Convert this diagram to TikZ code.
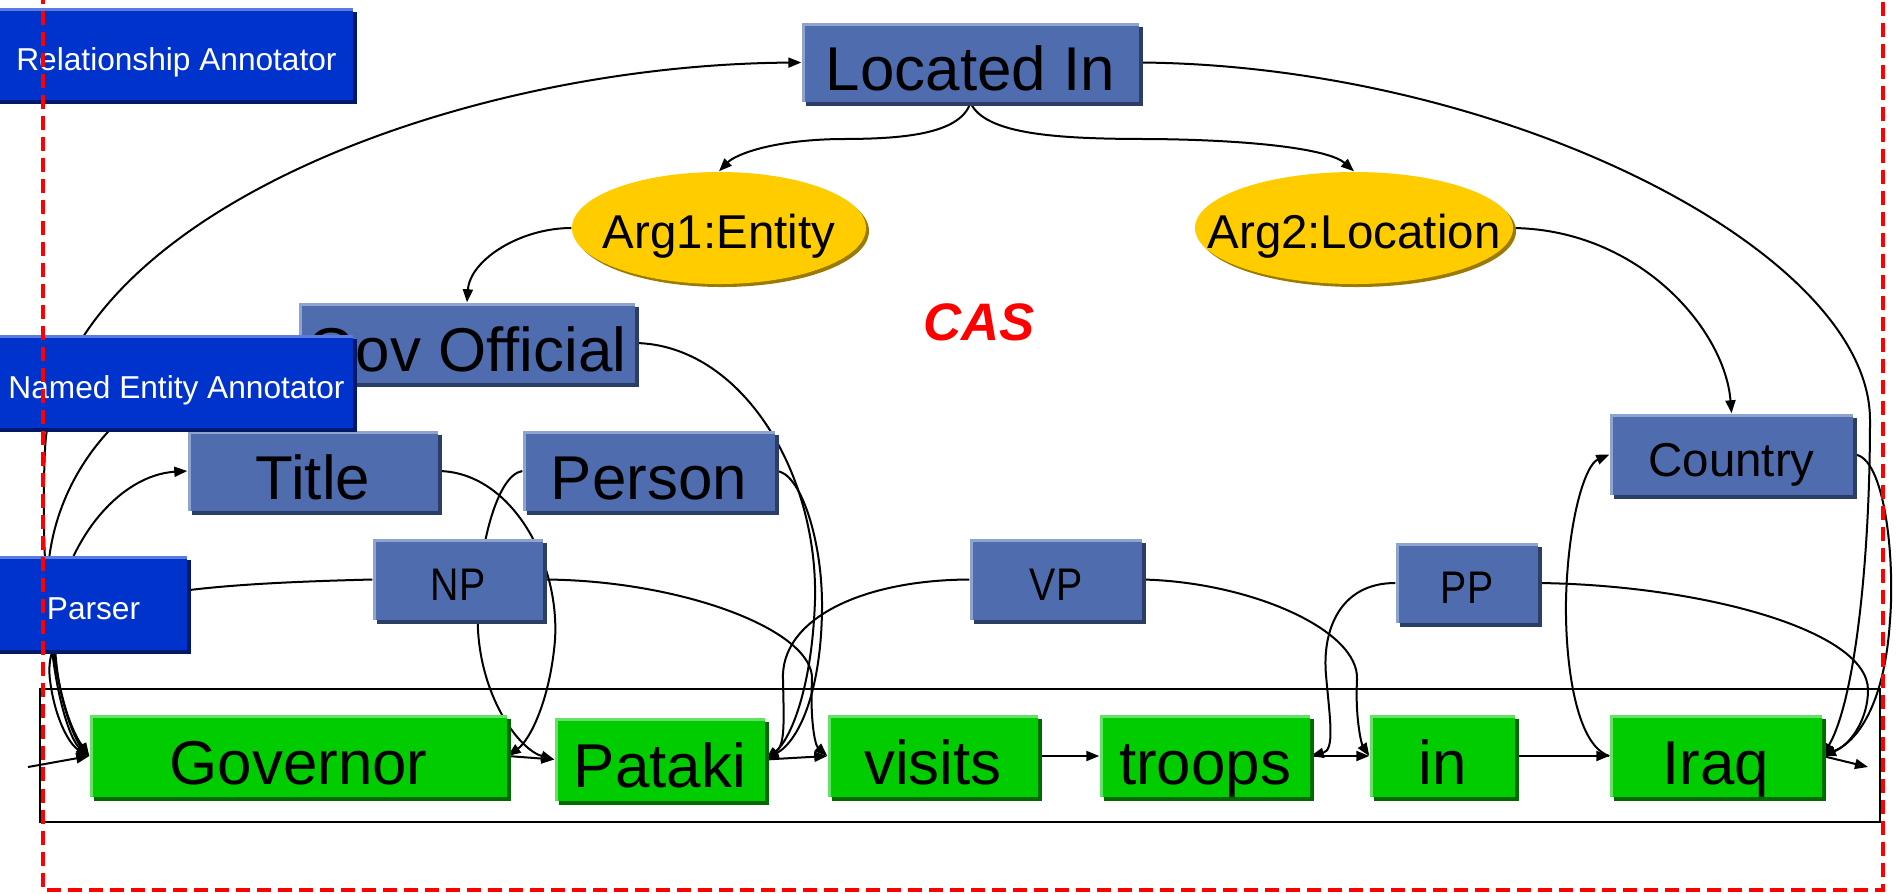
\documentclass[tikz,border=0pt]{standalone}
\usepackage{fontspec}
\setmainfont{Liberation Sans}
\usetikzlibrary{arrows.meta,shadows,shapes.geometric}

\pgfdeclarelayer{paper}
\pgfdeclarelayer{links}
\pgfsetlayers{paper,links,main}

\definecolor{slate}{HTML}{4F6CAE}
\definecolor{slatelight}{HTML}{8FA3CF}
\definecolor{slatedark}{HTML}{2C3D66}
\definecolor{royal}{HTML}{0033CC}
\definecolor{royallight}{HTML}{5A7BE0}
\definecolor{royaldark}{HTML}{00196B}
\definecolor{leaf}{HTML}{00CC00}
\definecolor{leaflight}{HTML}{66E066}
\definecolor{leafdark}{HTML}{006B00}
\definecolor{gold}{HTML}{FFCC00}
\definecolor{golddark}{HTML}{9C7A00}

\newcommand\txtbig{\fontsize{17.6pt}{21pt}\selectfont}
\newcommand\txtmid{\fontsize{13.5pt}{16pt}\selectfont}
\newcommand\txtphr{\fontsize{13pt}{16pt}\selectfont}
\newcommand\txtsmall{\fontsize{9pt}{11pt}\selectfont}
\newcommand\txtcas{\fontsize{15pt}{18pt}\selectfont\bfseries\itshape}

\tikzset{
  x=0.01cm, y=-0.01cm,
  wh/.style 2 args={minimum width=#1*0.01cm, minimum height=#2*0.01cm},
  raised/.style n args={3}{rectangle, inner sep=0pt, fill=#1,
    general shadow={fill=#3, shadow xshift=0.04cm, shadow yshift=-0.04cm},
    path picture={\draw[#2, line width=0.06cm]
      (path picture bounding box.south west) -- (path picture bounding box.north west)
      -- (path picture bounding box.north east);}},
  slatebox/.style={raised={slate}{slatelight}{slatedark}},
  royalbox/.style={raised={royal}{royallight}{royaldark}, text=white,
    font=\txtsmall, text height=0.33cm, text depth=0pt},
  leafbox/.style={raised={leaf}{leaflight}{leafdark},
    font=\txtbig, text height=0.56cm, text depth=0pt},
  bigtext/.style={font=\txtbig, text height=0.56cm, text depth=0pt},
  midtext/.style={font=\txtmid, text height=0.44cm, text depth=0pt},
  phrtext/.style={font=\txtphr, text height=0.41cm, text depth=0pt},
  goldoval/.style={ellipse, inner sep=0pt, fill=gold,
    general shadow={fill=golddark, shadow xshift=0.03cm, shadow yshift=-0.03cm},
    font=\txtmid, text height=0.40cm, text depth=0pt},
  lnk/.style={draw=black, line width=0.02cm},
  fwd/.style={-{Triangle[length=0.13cm,width=0.1cm]}},
  both/.style={{Triangle[length=0.13cm,width=0.1cm]}-{Triangle[length=0.13cm,width=0.1cm]}},
  casline/.style={draw=red, line width=0.04cm, dash pattern=on 0.14cm off 0.07cm},
}

\begin{document}
\begin{tikzpicture}
\useasboundingbox (0,0) rectangle (1899,893);
\begin{pgfonlayer}{paper}
  \fill[white] (0,0) rectangle (1899,893);
\end{pgfonlayer}

% token row
\node[leafbox, wh={417}{82}] (gov)  at (298.5,756) {Governor};
\node[leafbox, wh={210}{83}] (pat)  at (660,759.5) {Pataki};
\node[leafbox, wh={210}{82}] (vis)  at (933,756)   {visits};
\node[leafbox, wh={210}{82}] (trp)  at (1205,756)  {troops};
\node[leafbox, wh={145}{82}] (inn)  at (1442.5,756) {in};
\node[leafbox, wh={212}{82}] (iraq) at (1716,756)  {Iraq};
\coordinate (inp) at (28,767);
\coordinate (out) at (1868,767);

% annotations
\node[slatebox, bigtext, wh={337}{79}] (li)     at (970.5,62.5) {Located In};
\node[slatebox, bigtext, wh={336}{80}] (goff)   at (467,343)    {Gov Official};
\node[slatebox, bigtext, wh={250}{80}] (title)  at (313,471)    {Title};
\node[slatebox, bigtext, wh={252}{80}] (person) at (649,471)    {Person};
\node[slatebox, midtext, wh={243}{81}] (cty)    at (1731.5,454.5) {Country};
\node[slatebox, phrtext, wh={170}{81}] (np) at (458,579.5)  {\scalebox{0.86}[1]{NP}};
\node[slatebox, phrtext, wh={172}{81}] (vp) at (1056,579.5) {\scalebox{0.86}[1]{VP}};
\node[slatebox, phrtext, wh={142}{80}] (pp) at (1467,583)   {\scalebox{0.86}[1]{PP}};

\node[goldoval, wh={294}{112}] (arg1) at (719,228)  {\makebox[0pt]{Arg1:Entity}};
\node[goldoval, wh={318}{112}] (arg2) at (1354,228) {\makebox[0pt]{Arg2:Location}};

\node[text=red, font=\txtcas] (cas) at (979,322) {CAS};

% analysis engines (their left edges run off the page)
\node[royalbox, wh={365}{92}] (ra)  at (170.5,54)    {\hspace*{0.12cm}Relationship Annotator};
\node[royalbox, wh={365}{93}] (nea) at (170.5,381.5) {\hspace*{0.12cm}Named Entity Annotator};
\node[royalbox, wh={199}{94}] (prs) at (87.5,603)    {\hspace*{0.12cm}Parser};

\begin{pgfonlayer}{links}
  % frame round the token row
  \draw[line width=0.02cm] (40,689) rectangle (1880,822);

  % token sequence
  \draw[lnk, fwd] (inp) -- (gov.west);
  \draw[lnk, fwd] (gov.east) -- (pat.west);
  \draw[lnk, fwd] (pat.east) -- (vis.west);
  \draw[lnk, fwd] (vis.east) -- (trp.west);
  \draw[lnk, fwd] (trp.east) -- (inn.west);
  \draw[lnk, fwd] (inn.east) -- (iraq.west);
  \draw[lnk, fwd] (iraq.east) -- (out);

  % relation and its arguments
  \draw[lnk, fwd] (li.south) .. controls (960,135) and (900,139) .. (840,139)
        .. controls (770,140) and (735,155) .. (arg1.north);
  \draw[lnk, fwd] (li.south) .. controls (985,135) and (1060,139) .. (1150,139)
        .. controls (1260,140) and (1330,150) .. (arg2.north);
  \draw[lnk, fwd] (arg1.west) .. controls (520,228) and (470,260) .. (goff.north);
  \draw[lnk, fwd] (arg2.east) .. controls (1640,230) and (1725,330) .. (cty.north);

  % span starts
  \draw[lnk, both] (gov.west) .. controls (50,700) and (40,560) .. (45,450)
        .. controls (55,220) and (450,65) .. (li.west);
  \draw[lnk, fwd] (goff.west) .. controls (130,360) and (40,480) .. (48,600)
        .. controls (52,690) and (70,740) .. (gov.west);
  \draw[lnk, both] (gov.west) .. controls (75,740) and (52,690) .. (55,620)
        .. controls (65,540) and (120,475) .. (title.west);
  \draw[lnk, fwd] (np.west) .. controls (150,585) and (40,600) .. (50,680)
        .. controls (55,720) and (70,745) .. (gov.west);
  \draw[lnk, fwd] (person.west) .. controls (495,475) and (475,560) .. (478,630)
        .. controls (482,700) and (520,750) .. (pat.west);
  \draw[lnk, fwd] (vp.west) .. controls (860,580) and (780,620) .. (783,680)
        .. controls (784,725) and (785,745) .. (pat.east);
  \draw[lnk, fwd] (pp.west) .. controls (1340,583) and (1322,630) .. (1326,675)
        .. controls (1330,720) and (1335,750) .. (trp.east);
  \draw[lnk, fwd] (iraq.west) .. controls (1575,745) and (1565,660) .. (1566,600)
        .. controls (1568,520) and (1585,465) .. (cty.west);

  % span ends
  \draw[lnk, fwd] (title.east) .. controls (510,472) and (560,560) .. (555,640)
        .. controls (550,700) and (530,740) .. (gov.east);
  \draw[lnk, fwd] (goff.east) .. controls (740,345) and (818,470) .. (815,600)
        .. controls (812,690) and (790,740) .. (pat.east);
  \draw[lnk, fwd] (person.east) .. controls (800,471) and (823,540) .. (822,610)
        .. controls (821,690) and (800,740) .. (pat.east);
  \draw[lnk, fwd] (np.east) .. controls (680,580) and (815,630) .. (812,680)
        .. controls (810,720) and (815,745) .. (vis.west);
  \draw[lnk, fwd] (vp.east) .. controls (1250,582) and (1360,630) .. (1357,680)
        .. controls (1355,720) and (1362,745) .. (inn.west);
  \draw[lnk, fwd] (pp.east) .. controls (1700,585) and (1868,630) .. (1868,690)
        .. controls (1868,720) and (1850,745) .. (iraq.east);
  \draw[lnk, fwd] (cty.east) .. controls (1885,455) and (1895,560) .. (1890,620)
        .. controls (1885,700) and (1860,740) .. (iraq.east);
  \draw[lnk, fwd] (li.east) .. controls (1500,65) and (1870,250) .. (1870,420)
        .. controls (1870,560) and (1855,700) .. (iraq.east);
\end{pgfonlayer}

% CAS boundary
\draw[casline] (43,-10) -- (43,890) -- (1883,890) -- (1883,-10);
\end{tikzpicture}
\end{document}
